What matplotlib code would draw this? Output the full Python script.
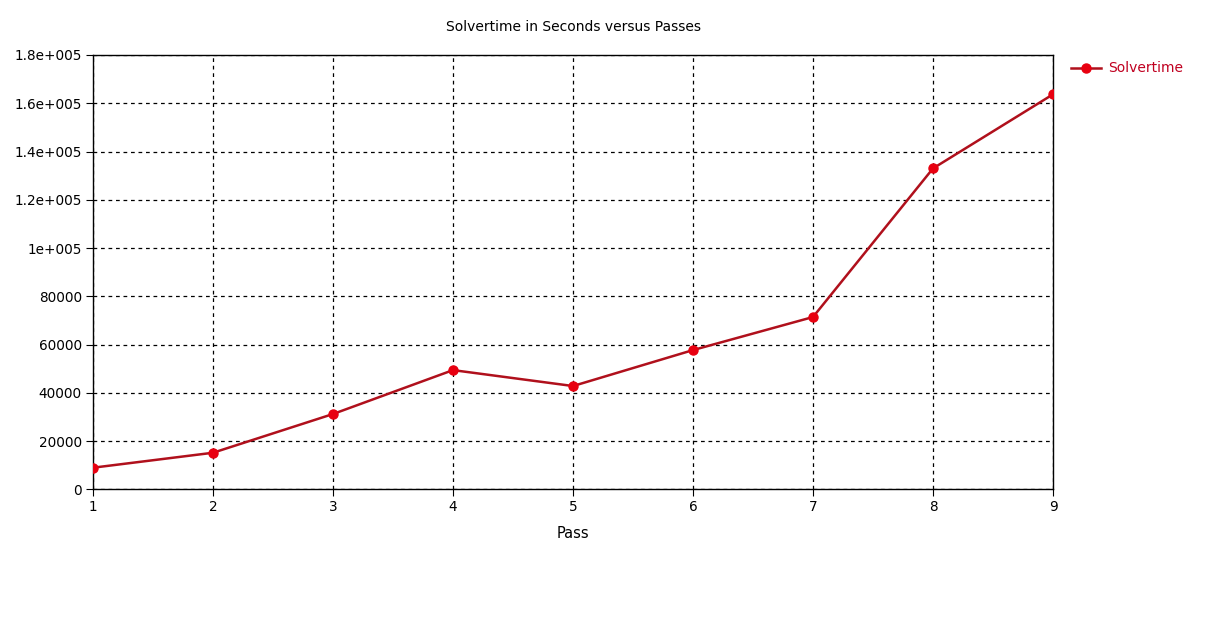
import matplotlib
matplotlib.use("Agg")
import matplotlib.pyplot as plt

passes = [1, 2, 3, 4, 5, 6, 7, 8, 9]
solvertime = [8950, 15150, 31200, 49400, 42800, 57700, 71400, 133000, 163700]
y_ticks = [0, 20000, 40000, 60000, 80000, 100000, 120000, 140000, 160000, 180000]
y_labels = ["0", "20000", "40000", "60000", "80000", "1e+005", "1.2e+005",
            "1.4e+005", "1.6e+005", "1.8e+005"]

plt.rcParams['font.family'] = ['DejaVu Sans']
fig = plt.figure(figsize=(12.1, 6.32), dpi=100)
ax = fig.add_axes([93/1210, 1-489.3/632, (1053-93)/1210, (489.3-55)/632])

line, = ax.plot(passes, solvertime, color='#b0101c', lw=1.8, marker='o',
                markersize=6.5, markerfacecolor='#e80010', markeredgecolor='#e80010',
                label='Solvertime', zorder=3)

ax.set_xlim(1, 9)
ax.set_ylim(0, 180000)
ax.set_xticks(passes)
ax.set_yticks(y_ticks)
ax.set_yticklabels(y_labels)
ax.grid(True, color='black', linestyle=(0, (3, 3)), lw=0.9)
ax.tick_params(direction='out', length=5, labelsize=9.8, color='black', pad=3)
for s in ax.spines.values():
    s.set_color('black')
    s.set_linewidth(1.0)

ax.set_xlabel('Pass', fontsize=10.5, labelpad=8)
fig.text(573/1210, 1-27/632, 'Solvertime in Seconds versus Passes',
         ha='center', va='center', fontsize=10)

leg = ax.legend(loc='upper left', bbox_to_anchor=(1058/1210, 1-49/632),
                bbox_transform=fig.transFigure, frameon=False, fontsize=10,
                labelcolor='#c00020', handlelength=2.2, handletextpad=0.5)

fig.savefig('out.png', dpi=100)
